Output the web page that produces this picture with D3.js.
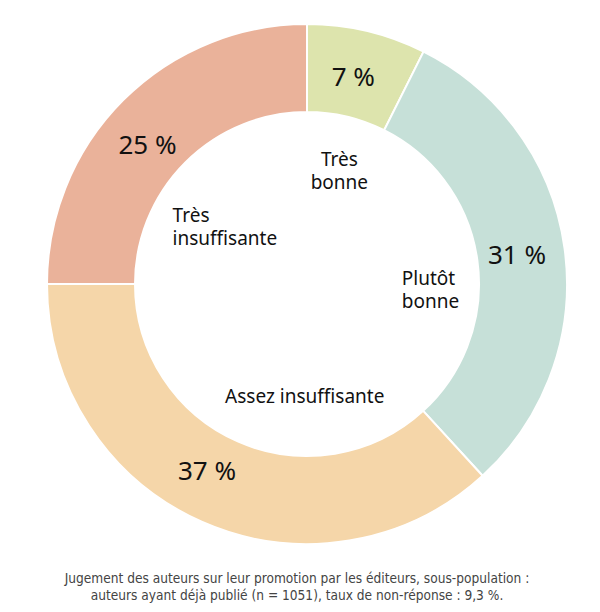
<!DOCTYPE html>
<html>
<head>
<meta charset="utf-8">
<script src="https://cdn.jsdelivr.net/npm/d3@7"></script>
<style>
  body { margin: 0; background: #fff; }
  svg { display: block; }
</style>
</head>
<body>
<svg id="chart" width="600" height="612"></svg>
<script>
// Data
const categories = ["Très bonne", "Plutôt bonne", "Assez insuffisante", "Très insuffisante"];
const values = [7.4, 30.8, 36.8, 25.0];
const labelLines = [["Très", "bonne"], ["Plutôt", "bonne"], ["Assez insuffisante"], ["Très", "insuffisante"]];
const colors = ["#dde4ad", "#c6e0d8", "#f5d6a9", "#eab29a"];
const note = [
  "Jugement des auteurs sur leur promotion par les éditeurs, sous-population :",
  "auteurs ayant déjà publié (n = 1051), taux de non-réponse : 9,3 %."
];

// Label placement tweaks (degrees added to the slice mid-angle)
const pctShift = [-0.7, 0, 4.4, -3.8];
const nameShift = [2.6, 11.4, -22.6, -22];
const nameRadius = [118, 95, 112, 146];
const nameAnchor = ["middle", "start", "middle", "start"];

const svg = d3.select("#chart");
const cx = 307, cy = 284;
const outerR = 260, innerR = 172;

const g = svg.append("g").attr("transform", `translate(${cx},${cy})`);

const pie = d3.pie().sort(null).value((d) => d.value);
const arcs = pie(categories.map((c, i) => ({ name: c, value: values[i], i })));

const arc = d3.arc().innerRadius(innerR).outerRadius(outerR);

// polar point helper: angle in radians clockwise from 12 o'clock
const polar = (a, r) => [Math.sin(a) * r, -Math.cos(a) * r];
const mid = (d) => (d.startAngle + d.endAngle) / 2;
const rad = (deg) => (deg * Math.PI) / 180;

// Slices
g.selectAll("path.slice")
  .data(arcs)
  .enter()
  .append("path")
  .attr("class", "slice")
  .attr("d", arc)
  .attr("fill", (d) => colors[d.data.i])
  .attr("stroke", "#fff")
  .attr("stroke-width", 2);

// Percent labels
g.selectAll("text.pct")
  .data(arcs)
  .enter()
  .append("text")
  .attr("class", "pct")
  .attr("transform", (d) => `translate(${polar(mid(d) + rad(pctShift[d.data.i]), 212)})`)
  .attr("text-anchor", "middle")
  .attr("dy", "0.36em")
  .style("font-family", "'Noto Sans', sans-serif")
  .style("font-size", "26px")
  .style("fill", "#111")
  .text((d) => `${Math.round(d.data.value)} %`);

// Category labels inside the hole
const names = g.selectAll("text.name")
  .data(arcs)
  .enter()
  .append("text")
  .attr("class", "name")
  .attr("transform", (d) => `translate(${polar(mid(d) + rad(nameShift[d.data.i]), nameRadius[d.data.i])})`)
  .attr("text-anchor", (d) => nameAnchor[d.data.i])
  .style("font-family", "'Noto Sans', sans-serif")
  .style("font-size", "19px")
  .style("fill", "#111");

names.each(function (d) {
  const lines = labelLines[d.data.i];
  const t = d3.select(this);
  lines.forEach((line, k) => {
    t.append("tspan")
      .attr("x", 0)
      .attr("y", (k - (lines.length - 1) / 2) * 23)
      .attr("dy", "0.35em")
      .text(line);
  });
});

// Footnote
svg.append("g")
  .selectAll("text")
  .data(note)
  .enter()
  .append("text")
  .attr("x", 297)
  .attr("y", (d, i) => 583 + i * 17)
  .attr("text-anchor", "middle")
  .style("font-family", "'Liberation Sans Narrow', 'DejaVu Sans Condensed', sans-serif")
  .style("font-size", "13.6px")
  .style("fill", "#444")
  .text((d) => d);
</script>
</body>
</html>
